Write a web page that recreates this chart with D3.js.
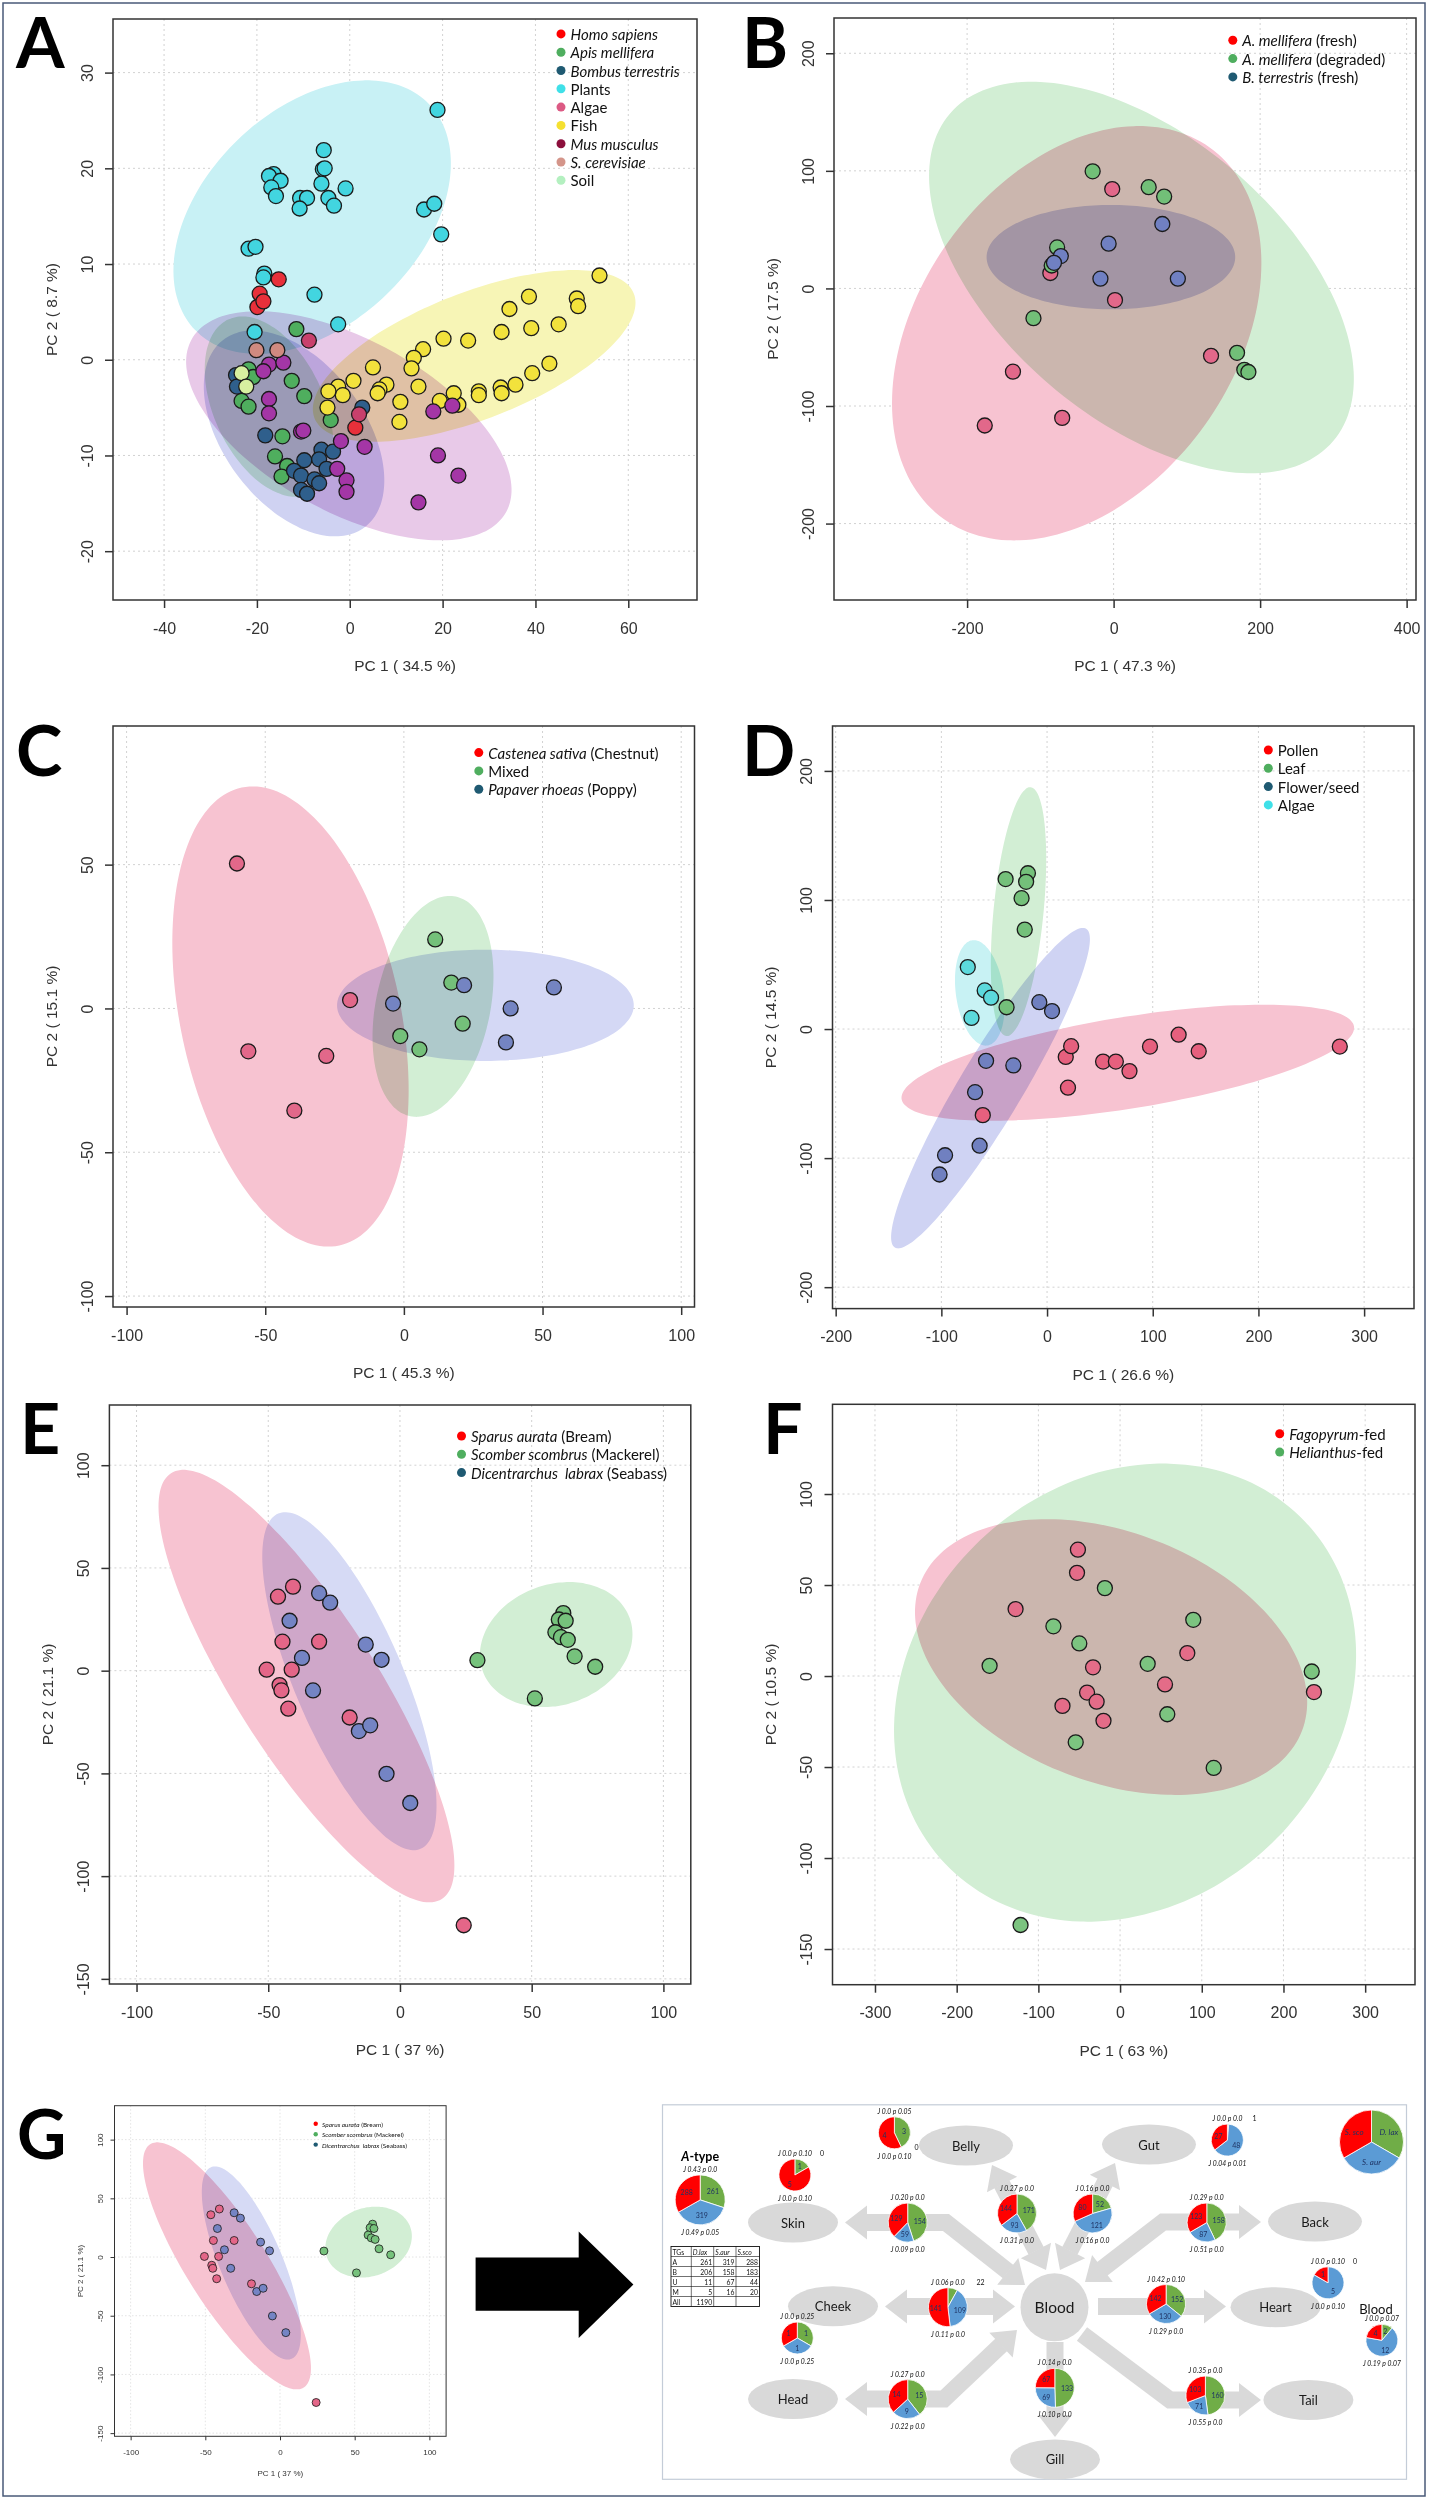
<!DOCTYPE html>
<html>
<head>
<meta charset="utf-8">
<script src="https://cdn.jsdelivr.net/npm/d3@7"></script>
<style>
  body { margin: 0; background: #fff; }
  svg { display: block; }
  text { white-space: pre; }
</style>
</head>
<body>
<script>
// ---------- data ----------

// A: all sources, PC1 / PC2
const aHomo   = [[-15.3,8.4],[-19.4,6.9],[-19.9,5.5],[-18.6,6.1],[1.2,-7.1]];
const aApis   = [[-11.5,3.2],[-12.5,-2.2],[-9.8,-3.8],[-4.1,-6.3],[-14.5,-8.0],[-16.1,-10.1],[-13.5,-11.1],[-14.7,-12.2],[-21.8,-1.0],[-22.8,-1.9],[-23.3,-4.3],[-21.8,-4.9],[-20.8,-1.8]];
const aBombus = [[-24.5,-1.6],[-24.3,-2.8],[-18.2,-7.9],[-9.8,-10.5],[-12.0,-11.6],[-10.5,-12.1],[-7.6,-12.5],[-6.1,-9.4],[-6.6,-10.4],[-3.6,-9.6],[-5.0,-11.4],[-6.6,-12.9],[-10.5,-13.6],[-9.2,-14.0],[2.7,-5.0]];
const aPlants = [[18.9,26.1],[-5.6,21.9],[-5.8,19.9],[-5.4,20.0],[-16.4,19.4],[-17.4,19.2],[-14.9,18.7],[-16.9,18.0],[-15.9,17.1],[-10.7,16.9],[-9.2,16.9],[-10.8,15.8],[-6.1,18.4],[-4.6,16.9],[-3.4,16.1],[-0.9,17.9],[16.0,15.7],[18.2,16.3],[19.7,13.1],[-21.8,11.6],[-20.3,11.8],[-18.4,9.0],[-18.6,8.6],[-7.6,6.8],[-2.5,3.7],[-20.5,2.9]];
const aAlgae  = [[-8.8,2.0],[2.0,-5.7]];
const aFish   = [[53.8,8.8],[48.9,6.4],[49.2,5.6],[38.6,6.6],[34.4,5.3],[32.7,2.9],[39.1,3.3],[45.0,3.7],[20.2,2.2],[25.5,2.0],[15.8,1.1],[13.8,0.2],[13.3,-0.9],[5.0,-0.8],[0.8,-2.2],[7.9,-2.6],[6.4,-3.1],[6.0,-3.5],[-2.5,-2.8],[-1.5,-3.7],[-4.6,-3.3],[-4.8,-5.0],[10.9,-4.4],[10.7,-6.5],[14.8,-2.8],[19.4,-4.3],[23.4,-4.7],[22.4,-3.5],[27.8,-3.3],[27.8,-3.7],[32.5,-2.9],[32.7,-3.5],[35.7,-2.6],[39.3,-1.4],[43.0,-0.4]];
const aMus    = [[-17.4,-0.5],[-18.6,-1.2],[-14.3,-0.3],[-17.4,-4.1],[-17.4,-5.6],[-10.5,-7.5],[-10.0,-7.4],[-1.9,-8.5],[3.2,-9.1],[-2.7,-11.4],[-0.7,-12.6],[-0.7,-13.8],[18.0,-5.4],[22.1,-4.8],[19.0,-10.0],[23.4,-12.1],[14.8,-14.9]];
const aYeast  = [[-20.1,1.0],[-15.6,1.0]];
const aSoil   = [[-23.3,-1.4],[-22.3,-2.8]];
// ellipses: centre, end of major semi-axis, minor/major ratio
const aEllPlants = {c:[-8.1,14.9], tip:[17.1,26.7], r:0.66};
const aEllFish   = {c:[26.8,0.4],  tip:[61.2,6.9],  r:0.37};
const aEllMus    = {c:[-0.2,-6.9], tip:[33.7,-15.9], r:0.48};
const aEllApis   = {c:[-17.4,-4.9], tip:[-8.6,-14.0], r:0.57};
const aEllBombus = {c:[-12.0,-7.7], tip:[3.2,-17.5], r:0.6};

// B: fresh vs degraded
const bFresh    = [[-1.9,84.5],[1.9,-9.9],[-86.4,13.1],[133.0,-57.3],[-137.4,-70.8],[-175.9,-116.6],[-70.2,-110.1]];
const bDegraded = [[-28.6,99.6],[47.9,86.1],[69.0,78.1],[-77.1,34.9],[-109.4,-25.3],[168.5,-54.8],[178.4,-69.2],[184.0,-71.1],[-84.5,19.5]];
const bBombus   = [[66.5,54.8],[-6.8,38.1],[-72.1,27.5],[-81.4,21.8],[-18.0,8.3],[87.7,8.3]];
const bEllFresh    = {c:[-50.4,-38.1], tip:[131.1,119.9], r:0.69};
const bEllDegraded = {c:[38.0,9.3], tip:[299.5,-130], r:0.56};
const bEllBombus   = {c:[-3.7,26.6], tip:[166.0,26.6], r:0.42};

// C: honey origin
const cChestnut = [[-60.2,50.4],[-56.1,-14.9],[-28.0,-16.5],[-39.5,-35.5],[-19.4,2.9]];
const cMixed    = [[11.3,24.0],[17.1,9.0],[21.2,-5.3],[-1.3,-9.6],[5.6,-14.2]];
const cPoppy    = [[-3.9,1.7],[21.7,8.1],[54.1,7.3],[38.5,0],[36.8,-11.8]];
const cEllChestnut = {c:[-40.9,-2.8], tip:[-23.3,-82.4], r:0.47};
const cEllMixed    = {c:[10.5,0.7], tip:[18.7,38.9], r:0.51};
const cEllPoppy    = {c:[29.4,1.1], tip:[82.9,1.1], r:0.375};

// D: plant tissue
const dPollen = [[-60.8,-66.7],[17.7,-21.6],[22.8,-13.3],[19.8,-45.4],[53.0,-25.2],[65.1,-25.2],[78.0,-32.6],[97.4,-13.6],[124.5,-4.4],[143.5,-17.2],[277.0,-13.6]];
const dLeaf   = [[-39.2,116.2],[-18.1,120.7],[-19.8,114.1],[-24.1,101.4],[-21.1,77.1],[-38.3,16.9]];
const dFlower = [[-7.3,20.8],[4.7,13.9],[-57.7,-24.6],[-31.9,-28.2],[-68.1,-48.9],[-63.8,-90.4],[-96.5,-97.8],[-101.7,-112.7]];
const dAlgae  = [[-75.0,48.0],[-59.0,29.9],[-53.0,24.3],[-71.5,8.6]];
const dEllPollen = {c:[76.4,-26.1], tip:[290.4,2.1], r:0.2};
const dEllLeaf   = {c:[-27.0,91.0], tip:[-15.5,187.4], r:0.2};
const dEllFlower = {c:[-53.5,-45.8], tip:[37.0,77.7], r:0.17};
const dEllAlgae  = {c:[-63.6,28.0], tip:[-70.7,68.8], r:0.45};

// E (and G): fish species
const eBream    = [[-40.6,40.9],[-46.3,36.0],[-44.6,14.1],[-30.7,14.1],[-50.6,0.5],[-41.1,0.5],[-45.7,-7.0],[-45.0,-9.6],[-42.4,-18.5],[-19.1,-22.8],[24.2,-123.9]];
const eMackerel = [[29.4,5.1],[62.0,28.0],[60.3,24.9],[62.9,24.3],[59.0,18.7],[61.1,16.3],[63.7,15.0],[66.3,7.0],[74.1,1.9],[51.2,-13.5]];
const eSeabass  = [[-30.7,37.7],[-26.5,33.1],[-41.9,24.3],[-37.2,6.2],[-33.0,-9.6],[-13.0,12.7],[-7.0,5.3],[-15.6,-29.4],[-11.3,-26.6],[-5.1,-50.2],[3.9,-64.4]];
const eEllBream    = {c:[-35.5,-7.5], tip:[-86.9,96.1], r:0.28};
const eEllMackerel = {c:[59.3,12.7], tip:[87.2,25.6], r:0.77};
const eEllSeabass  = {c:[-19.2,-5.1], tip:[-46.2,76.5], r:0.3};

// F: diet
const fFago   = [[-51.6,69.4],[-52.7,56.7],[-127.9,36.8],[-33.1,4.8],[82.3,12.6],[55.0,-4.6],[-40.4,-9.1],[-28.7,-14.1],[-70.5,-16.4],[-20.3,-24.6],[237.3,-8.8]];
const fHelian = [[-18.6,48.3],[-81.6,27.3],[-49.9,17.9],[-159.7,5.6],[33.8,6.7],[89.6,30.9],[234.6,2.5],[57.8,-21.0],[-54.3,-36.4],[114.6,-50.5],[-121.8,-136.8]];
const fEllFago   = {c:[-11.0,10.4], tip:[222.6,-30.2], r:0.61};
const fEllHelian = {c:[6.1,-9.1], tip:[226.5,84.8], r:0.847};

// G: tissue pies (D. lax, S. aur, S. sco)
const pieDlax = [261, 1, 3, 1, 154, 171, 52, 158, 0, 22, 1, 152, 2, 15, 133, 160, 1];
const pieSaur = [319, 0, 0, 48, 59, 93, 121, 87, 5, 109, 1, 130, 12, 9, 69, 71, 1];
const pieSsco = [288, 5, 4, 27, 129, 144, 80, 123, 1, 141, 1, 142, 4, 14, 67, 103, 1];
const pieTop = ["J 0.43 p 0.0","J 0.0 p 0.10","J 0.0 p 0.05","J 0.0 p 0.0","J 0.20 p 0.0","J 0.27 p 0.0","J 0.16 p 0.0","J 0.29 p 0.0","J 0.0 p 0.10","J 0.06 p 0.0","J 0.0 p 0.25","J 0.42 p 0.10","J 0.0 p 0.07","J 0.27 p 0.0","J 0.14 p 0.0","J 0.35 p 0.0",""];
const pieBottom = ["J 0.49 p 0.05","J 0.0 p 0.10","J 0.0 p 0.10","J 0.04 p 0.01","J 0.09 p 0.0","J 0.31 p 0.0","J 0.16 p 0.0","J 0.51 p 0.0","J 0.0 p 0.10","J 0.11 p 0.0","J 0.0 p 0.25","J 0.29 p 0.0","J 0.19 p 0.07","J 0.22 p 0.0","J 0.10 p 0.0","J 0.55 p 0.0",""];
const pieNote = [null,"0","0","1",null,null,null,null,"0","22",null,null,null,null,null,null,null];
const legendPieNames = ["D. lax","S. aur","S. sco"];
const tableHead = ["TGs","D.lax","S.aur","S.sco"];
const tableRows = [["A",261,319,288],["B",206,158,183],["U",11,67,44],["M",5,16,20],["All",1190,"",""]];

// ---------- layout ----------
const W = 1429, H = 2500;
const svg = d3.select("body").append("svg").attr("width", W).attr("height", H)
  .attr("font-family", "'Liberation Sans', Arial, sans-serif");
svg.append("rect").attr("width", W).attr("height", H).attr("fill", "#fff");

const RED = "#ff0000", GRN = "#4fae5f", TEAL = "#1f5a72";
const MAIN  = {r:7.5, sw:1.3, tick:8, tickFont:16, xLab:28, yLab:26, xTitle:65.5, yTitle:62, titleFont:15.5, box:1.5, grid:1, dash:"2,3", legR:4.5, legDx:9.5, legFont:15, legStep:18.3};
const SMALL = {r:4, sw:0.8, tick:4, tickFont:8, xLab:16.3, yLab:14.5, xTitle:36.7, yTitle:34.5, titleFont:8, box:1, grid:0.6, dash:"1.5,2", legR:2.2, legDx:6.3, legFont:6.5, legStep:10.4};

function ellPath(x, y, e) {
  const cx = x(e.c[0]), cy = y(e.c[1]);
  const ux = x(e.tip[0]) - cx, uy = y(e.tip[1]) - cy;
  const vx = -uy * e.r, vy = ux * e.r;
  const pts = d3.range(0, 360, 4).map(a => {
    const t = a * Math.PI / 180;
    return [cx + ux * Math.cos(t) + vx * Math.sin(t), cy + uy * Math.cos(t) + vy * Math.sin(t)];
  });
  return d3.line().curve(d3.curveCardinalClosed)(pts);
}

function scatter(p) {
  const s = p.small ? SMALL : MAIN;
  const [x0, y0, x1, y1] = p.box;
  const x = d3.scaleLinear().domain(p.xd).range([x0, x1]);
  const y = d3.scaleLinear().domain(p.yd).range([y1, y0]);
  const g = svg.append("g");
  const cid = "clip-" + p.key;
  g.append("clipPath").attr("id", cid).append("rect")
    .attr("x", x0).attr("y", y0).attr("width", x1 - x0).attr("height", y1 - y0);

  // dotted grid at the ticks
  g.append("g").selectAll("line").data(p.xt).join("line")
    .attr("x1", d => x(d)).attr("x2", d => x(d)).attr("y1", y0).attr("y2", y1)
    .attr("stroke", "#d2d2d2").attr("stroke-width", s.grid).attr("stroke-dasharray", s.dash);
  g.append("g").selectAll("line").data(p.yt).join("line")
    .attr("y1", d => y(d)).attr("y2", d => y(d)).attr("x1", x0).attr("x2", x1)
    .attr("stroke", "#d2d2d2").attr("stroke-width", s.grid).attr("stroke-dasharray", s.dash);

  // confidence ellipses
  g.append("g").attr("clip-path", `url(#${cid})`)
    .selectAll("path").data(p.series.filter(d => d.ell)).join("path")
    .attr("d", d => ellPath(x, y, d.ell))
    .attr("fill", d => d.fill)
    .style("mix-blend-mode", "multiply");

  // points
  p.series.forEach(se => {
    g.append("g").selectAll("circle").data(se.pts).join("circle")
      .attr("cx", d => x(d[0])).attr("cy", d => y(d[1])).attr("r", s.r)
      .attr("fill", se.color).attr("stroke", "#1b1b1b").attr("stroke-width", s.sw);
  });

  g.append("rect").attr("x", x0).attr("y", y0).attr("width", x1 - x0).attr("height", y1 - y0)
    .attr("fill", "none").attr("stroke", "#333").attr("stroke-width", s.box);

  // axes
  const xa = g.append("g").attr("transform", `translate(0,${y1})`)
    .call(d3.axisBottom(x).tickValues(p.xt).tickSize(s.tick).tickFormat(d => String(d)));
  xa.select(".domain").remove();
  xa.attr("font-size", s.tickFont).attr("font-family", null);
  xa.selectAll(".tick line").attr("stroke", "#333").attr("stroke-width", s.box);
  xa.selectAll(".tick text").attr("y", s.xLab).attr("dy", null)
    .attr("dominant-baseline", "central").attr("fill", "#333");

  const ya = g.append("g").attr("transform", `translate(${x0},0)`)
    .call(d3.axisLeft(y).tickValues(p.yt).tickSize(s.tick).tickFormat(d => String(d)));
  ya.select(".domain").remove();
  ya.attr("font-size", s.tickFont).attr("font-family", null);
  ya.selectAll(".tick line").attr("stroke", "#333").attr("stroke-width", s.box);
  ya.selectAll(".tick text").attr("x", 0).attr("dy", null)
    .attr("transform", `translate(${-s.yLab},0) rotate(-90)`)
    .attr("text-anchor", "middle").attr("dominant-baseline", "central").attr("fill", "#333");

  g.append("text").attr("x", (x0 + x1) / 2).attr("y", y1 + s.xTitle)
    .attr("text-anchor", "middle").attr("dominant-baseline", "central")
    .attr("font-size", s.titleFont).attr("fill", "#333").text(p.xTitle);
  g.append("text").attr("transform", `translate(${x0 - s.yTitle},${(y0 + y1) / 2}) rotate(-90)`)
    .attr("text-anchor", "middle").attr("dominant-baseline", "central")
    .attr("font-size", s.titleFont).attr("fill", "#333").text(p.yTitle);

  // legend
  const lg = g.append("g").attr("font-family", "Lato, 'Open Sans', sans-serif").attr("font-size", s.legFont);
  p.series.forEach((se, i) => {
    const ly = p.leg[1] + i * s.legStep;
    lg.append("circle").attr("cx", p.leg[0]).attr("cy", ly).attr("r", s.legR).attr("fill", se.leg);
    const t = lg.append("text").attr("x", p.leg[0] + s.legDx).attr("y", ly)
      .attr("dominant-baseline", "central").attr("fill", "#111");
    if (se.label[0]) t.append("tspan").attr("font-style", "italic").text(se.label[0]);
    if (se.label[1]) t.append("tspan").text(se.label[1]);
  });

  svg.append("text").attr("x", p.letter[0]).attr("y", p.letter[1])
    .attr("font-family", "Lato, 'Open Sans', sans-serif").attr("font-weight", 700)
    .attr("font-size", p.small ? 68 : 70).attr("fill", "#000").text(p.key);
}

// ---------- panels ----------
scatter({
  key: "A", box: [113, 19, 697, 600], xd: [-51.0, 74.8], yd: [-25.1, 35.6],
  xt: [-40, -20, 0, 20, 40, 60], yt: [-20, -10, 0, 10, 20, 30],
  xTitle: "PC 1 ( 34.5 %)", yTitle: "PC 2 ( 8.7 %)", leg: [561, 33.9], letter: [16, 68],
  series: [
    {label: ["Homo sapiens", ""], pts: aHomo, color: "#e8303a", leg: RED},
    {label: ["Apis mellifera", ""], pts: aApis, color: "#4fae5e", leg: GRN, ell: aEllApis, fill: "#d2eed3"},
    {label: ["Bombus terrestris", ""], pts: aBombus, color: "#2f5f8c", leg: TEAL, ell: aEllBombus, fill: "#cfd2f2"},
    {label: ["", "Plants"], pts: aPlants, color: "#42d5e0", leg: "#3fe0e8", ell: aEllPlants, fill: "#c8f1f5"},
    {label: ["", "Algae"], pts: aAlgae, color: "#c8406c", leg: "#dc5a84"},
    {label: ["", "Fish"], pts: aFish, color: "#f2e23c", leg: "#f5e030", ell: aEllFish, fill: "#f7f5b6"},
    {label: ["Mus musculus", ""], pts: aMus, color: "#a436a6", leg: "#8c0f3c", ell: aEllMus, fill: "#e8c9e8"},
    {label: ["S. cerevisiae", ""], pts: aYeast, color: "#d08a80", leg: "#d4958a"},
    {label: ["", "Soil"], pts: aSoil, color: "#d8f0a0", leg: "#b4f0c0"}
  ]
});

scatter({
  key: "B", box: [834, 18, 1416, 600], xd: [-381.7, 412.8], yd: [-265, 230],
  xt: [-200, 0, 200, 400], yt: [-200, -100, 0, 100, 200],
  xTitle: "PC 1 ( 47.3 %)", yTitle: "PC 2 ( 17.5 %)", leg: [1232.8, 40.3], letter: [742, 68],
  series: [
    {label: ["A. mellifera", " (fresh)"], pts: bFresh, color: "#e2688a", leg: RED, ell: bEllFresh, fill: "#f7c3d1"},
    {label: ["A. mellifera", " (degraded)"], pts: bDegraded, color: "#72bf78", leg: GRN, ell: bEllDegraded, fill: "#d2eed4"},
    {label: ["B. terrestris", " (fresh)"], pts: bBombus, color: "#7080c2", leg: TEAL, ell: bEllBombus, fill: "#cdd1f0"}
  ]
});

scatter({
  key: "C", box: [113, 726, 694.5, 1307], xd: [-104.9, 104.8], yd: [-103.8, 98.2],
  xt: [-100, -50, 0, 50, 100], yt: [-100, -50, 0, 50],
  xTitle: "PC 1 ( 45.3 %)", yTitle: "PC 2 ( 15.1 %)", leg: [478.8, 752.6], letter: [16, 776],
  series: [
    {label: ["Castenea sativa", " (Chestnut)"], pts: cChestnut, color: "#e2688a", leg: RED, ell: cEllChestnut, fill: "#f7c3d1"},
    {label: ["", "Mixed"], pts: cMixed, color: "#74c07a", leg: GRN, ell: cEllMixed, fill: "#d2eed4"},
    {label: ["Papaver rhoeas", " (Poppy)"], pts: cPoppy, color: "#7484c2", leg: TEAL, ell: cEllPoppy, fill: "#d4d8f5"}
  ]
});

scatter({
  key: "D", box: [832.5, 726, 1414, 1308.6], xd: [-203, 347.2], yd: [-216.6, 234.8],
  xt: [-200, -100, 0, 100, 200, 300], yt: [-200, -100, 0, 100, 200],
  xTitle: "PC 1 ( 26.6 %)", yTitle: "PC 2 ( 14.5 %)", leg: [1268.3, 750], letter: [742, 776],
  series: [
    {label: ["", "Pollen"], pts: dPollen, color: "#e6607e", leg: RED, ell: dEllPollen, fill: "#f7c3d1"},
    {label: ["", "Leaf"], pts: dLeaf, color: "#74c07a", leg: GRN, ell: dEllLeaf, fill: "#d2eed4"},
    {label: ["", "Flower/seed"], pts: dFlower, color: "#7080c0", leg: TEAL, ell: dEllFlower, fill: "#cfd3f3"},
    {label: ["", "Algae"], pts: dAlgae, color: "#5cd9dc", leg: "#3fe0e8", ell: dEllAlgae, fill: "#c8f2f4"}
  ]
});

const fishSeries = [
  {label: ["Sparus aurata", " (Bream)"], pts: eBream, color: "#e46688", leg: RED, ell: eEllBream, fill: "#f7c3d1"},
  {label: ["Scomber scombrus", " (Mackerel)"], pts: eMackerel, color: "#76c27c", leg: GRN, ell: eEllMackerel, fill: "#d2eed4"},
  {label: ["Dicentrarchus  labrax", " (Seabass)"], pts: eSeabass, color: "#7484c4", leg: TEAL, ell: eEllSeabass, fill: "#d6daf5"}
];

scatter({
  key: "E", box: [109.4, 1405, 690.8, 1984], xd: [-110.3, 110.4], yd: [-152.5, 129.3],
  xt: [-100, -50, 0, 50, 100], yt: [-150, -100, -50, 0, 50, 100],
  xTitle: "PC 1 ( 37 %)", yTitle: "PC 2 ( 21.1 %)", leg: [461.5, 1436], letter: [20, 1454],
  series: fishSeries
});

scatter({
  key: "F", box: [832.5, 1404.3, 1415, 1984.7], xd: [-352, 361], yd: [-169.6, 149.3],
  xt: [-300, -200, -100, 0, 100, 200, 300], yt: [-150, -100, -50, 0, 50, 100],
  xTitle: "PC 1 ( 63 %)", yTitle: "PC 2 ( 10.5 %)", leg: [1279.7, 1433.8], letter: [763, 1454],
  series: [
    {label: ["Fagopyrum", "-fed"], pts: fFago, color: "#e46c88", leg: RED, ell: fEllFago, fill: "#f7c3d1"},
    {label: ["Helianthus", "-fed"], pts: fHelian, color: "#7cc480", leg: GRN, ell: fEllHelian, fill: "#d2eed4"}
  ]
});

scatter({
  key: "G", small: true, box: [114.5, 2105.7, 446.1, 2436.3], xd: [-110.8, 111.2], yd: [-152.7, 128.9],
  xt: [-100, -50, 0, 50, 100], yt: [-150, -100, -50, 0, 50, 100],
  xTitle: "PC 1 ( 37 %)", yTitle: "PC 2 ( 21.1 %)", leg: [315.7, 2123.8], letter: [17, 2159],
  series: fishSeries
});

// big black arrow between G's scatter and diagram
svg.append("path")
  .attr("d", d3.line()([[475.6,2257.4],[578.7,2257.4],[578.7,2231.6],[633.4,2284.6],[578.7,2338],[578.7,2310.8],[475.6,2310.8]]) + "Z")
  .attr("fill", "#000");

// ---------- tissue diagram ----------
const dg = svg.append("g").attr("font-family", "Lato, 'Open Sans', sans-serif");
dg.append("rect").attr("x", 662.5).attr("y", 2104.8).attr("width", 744).attr("height", 374.5)
  .attr("fill", "#fff").attr("stroke", "#c4ccd8").attr("stroke-width", 1.2);

const ARROW = "#d9d9d9";
function blockArrow(pts, startHead, endHead) {
  const w = 17, hl = 22, hw = 34;
  const p = pts.map(d => d.slice());
  const head = (tip, from) => {
    const dx = tip[0] - from[0], dy = tip[1] - from[1], L = Math.hypot(dx, dy);
    const ux = dx / L, uy = dy / L;
    const bx = tip[0] - ux * hl, by = tip[1] - uy * hl;
    dg.append("path").attr("fill", ARROW)
      .attr("d", d3.line()([tip, [bx - uy * hw / 2, by + ux * hw / 2], [bx + uy * hw / 2, by - ux * hw / 2]]) + "Z");
    return [bx + ux * 0.5, by + uy * 0.5];
  };
  if (startHead) p[0] = head(pts[0], pts[1]);
  if (endHead) p[p.length - 1] = head(pts[pts.length - 1], pts[pts.length - 2]);
  dg.append("path").attr("d", d3.line()(p)).attr("fill", "none").attr("stroke", ARROW)
    .attr("stroke-width", w).attr("stroke-linejoin", "miter");
}
blockArrow([[885, 2306.5], [1015, 2306.5]], true, true);              // Cheek - Blood
blockArrow([[1098, 2306.5], [1226, 2306.5]], false, true);            // Blood - Heart
blockArrow([[1025, 2285], [946, 2222.5], [845, 2222.5]], true, true); // Skin
blockArrow([[1085, 2282], [1163, 2222], [1261, 2222]], true, true);   // Back
blockArrow([[1046, 2270], [992, 2165]], true, true);                  // Belly
blockArrow([[1060, 2270], [1115, 2163]], true, true);                 // Gut
blockArrow([[1017, 2330], [944, 2399], [845, 2399]], true, true);     // Head
blockArrow([[1082, 2334], [1170, 2400], [1261, 2400]], false, true);  // Tail
blockArrow([[1055, 2342], [1055, 2437]], false, true);                // Gill

const nodes = [
  {name: "Belly", x: 966, y: 2145.5, rx: 47, ry: 20},
  {name: "Gut",   x: 1149, y: 2144.6, rx: 47, ry: 20},
  {name: "Skin",  x: 793, y: 2222.5, rx: 45, ry: 20},
  {name: "Back",  x: 1315, y: 2221.6, rx: 47, ry: 20},
  {name: "Cheek", x: 833, y: 2306.3, rx: 45, ry: 20},
  {name: "Blood", x: 1054.5, y: 2307.3, rx: 34, ry: 34},
  {name: "Heart", x: 1275.5, y: 2307.2, rx: 45, ry: 20},
  {name: "Head",  x: 793, y: 2399.1, rx: 45, ry: 20},
  {name: "Tail",  x: 1308.4, y: 2400, rx: 45, ry: 20},
  {name: "Gill",  x: 1055, y: 2459.4, rx: 45, ry: 20}
];
dg.append("g").selectAll("ellipse").data(nodes).join("ellipse")
  .attr("cx", d => d.x).attr("cy", d => d.y).attr("rx", d => d.rx).attr("ry", d => d.ry)
  .attr("fill", "#d9d9d9");
dg.append("g").selectAll("text").data(nodes).join("text")
  .attr("x", d => d.x).attr("y", d => d.y).attr("text-anchor", "middle").attr("dominant-baseline", "central")
  .attr("font-size", d => d.name === "Blood" ? 15.5 : 13).attr("fill", "#1a1a1a").text(d => d.name);

// pie placement (centre, radius)
const pieLayout = [
  [700.2, 2199.9, 25], [794.9, 2175, 16], [894.4, 2132.8, 16], [1227.4, 2140.1, 16],
  [907.7, 2222.5, 19.5], [1017, 2213.5, 19.5], [1092.6, 2213.5, 19.5], [1206.8, 2222.5, 19.5],
  [1328, 2282.8, 16], [947.9, 2307.2, 19.5], [797.3, 2338, 16], [1166.1, 2304, 19.5],
  [1381.9, 2340.3, 16], [907.7, 2399.1, 19.5], [1054.8, 2387.8, 19.5], [1205.4, 2395.5, 19.5],
  [1371.5, 2142, 32]
];
const PIE_COL = ["#70ad47", "#5b9bd5", "#ff0000"];
const pie = d3.pie().sort(null).value(d => d.v);
pieLayout.forEach(([cx, cy, r], i) => {
  const vals = [pieDlax[i], pieSaur[i], pieSsco[i]].map((v, j) => ({v, c: PIE_COL[j], name: legendPieNames[j]}));
  const arc = d3.arc().innerRadius(0).outerRadius(r);
  const lab = d3.arc().innerRadius(r * 0.25).outerRadius(r);
  const pg = dg.append("g").attr("transform", `translate(${cx},${cy})`);
  const arcs = pie(vals).filter(a => a.data.v > 0);
  pg.selectAll("path").data(arcs).join("path").attr("d", arc)
    .attr("fill", d => d.data.c).attr("stroke", "#fff").attr("stroke-width", 0.8);
  const isLegend = i === pieLayout.length - 1;
  pg.selectAll("text").data(arcs.filter(a => isLegend || a.endAngle - a.startAngle > 0.6)).join("text")
    .attr("transform", d => `translate(${lab.centroid(d)})`)
    .attr("text-anchor", "middle").attr("dominant-baseline", "central")
    .attr("font-size", isLegend ? 8 : 7).attr("font-style", isLegend ? "italic" : null)
    .attr("fill", "#1f3464")
    .text(d => isLegend ? d.data.name : d.data.v);
  if (pieTop[i]) dg.append("text").attr("x", cx).attr("y", cy - r - 6).attr("text-anchor", "middle")
    .attr("dominant-baseline", "central").attr("font-size", 6.8).attr("font-style", "italic")
    .attr("fill", "#111").text(pieTop[i]);
  if (pieBottom[i]) dg.append("text").attr("x", cx).attr("y", cy + r + 7).attr("text-anchor", "middle")
    .attr("dominant-baseline", "central").attr("font-size", 6.8).attr("font-style", "italic")
    .attr("fill", "#111").text(pieBottom[i]);
  if (pieNote[i]) {
    const below = i === 2;
    dg.append("text").attr("x", cx + r + (below ? 4 : 9)).attr("y", below ? cy + 14 : cy - r - 6)
      .attr("dominant-baseline", "central").attr("font-size", 7).attr("fill", "#111").text(pieNote[i]);
  }
});

dg.append("text").attr("x", 700.2).attr("y", 2156).attr("text-anchor", "middle").attr("dominant-baseline", "central")
  .attr("font-size", 12.5).attr("font-weight", 700)
  .call(t => { t.append("tspan").attr("font-style", "italic").text("A"); t.append("tspan").text("-type"); });
dg.append("text").attr("x", 1376).attr("y", 2308.5).attr("text-anchor", "middle").attr("dominant-baseline", "central")
  .attr("font-size", 13).attr("fill", "#111").text("Blood");

// table of counts
const colX = [671, 691.3, 713.7, 736, 759.5];
const rowH = 10, tY = 2246.5;
const tg = dg.append("g").attr("font-size", 6.8).attr("fill", "#111");
const nRows = tableRows.length + 1;
tg.append("rect").attr("x", colX[0]).attr("y", tY).attr("width", colX[4] - colX[0]).attr("height", nRows * rowH)
  .attr("fill", "#fff").attr("stroke", "#111").attr("stroke-width", 0.9);
d3.range(1, nRows).forEach(k => tg.append("line").attr("x1", colX[0]).attr("x2", colX[4])
  .attr("y1", tY + k * rowH).attr("y2", tY + k * rowH).attr("stroke", "#111").attr("stroke-width", 0.6));
colX.slice(1, 4).forEach(cx => tg.append("line").attr("x1", cx).attr("x2", cx)
  .attr("y1", tY).attr("y2", tY + nRows * rowH).attr("stroke", "#111").attr("stroke-width", 0.6));
tableHead.forEach((h, j) => tg.append("text").attr("x", colX[j] + 1.5).attr("y", tY + rowH / 2)
  .attr("dominant-baseline", "central").attr("font-style", j ? "italic" : null).text(h));
tableRows.forEach((row, i) => row.forEach((v, j) => {
  if (v === "") return;
  tg.append("text").attr("x", j ? colX[j + 1] - 1.5 : colX[0] + 1.5).attr("y", tY + (i + 1.5) * rowH)
    .attr("text-anchor", j ? "end" : "start").attr("dominant-baseline", "central").text(v);
}));

// outer frame of the figure
svg.append("rect").attr("x", 3).attr("y", 3).attr("width", 1422).attr("height", 2493)
  .attr("fill", "none").attr("stroke", "#4a5a78").attr("stroke-width", 1.5);
</script>
</body>
</html>
